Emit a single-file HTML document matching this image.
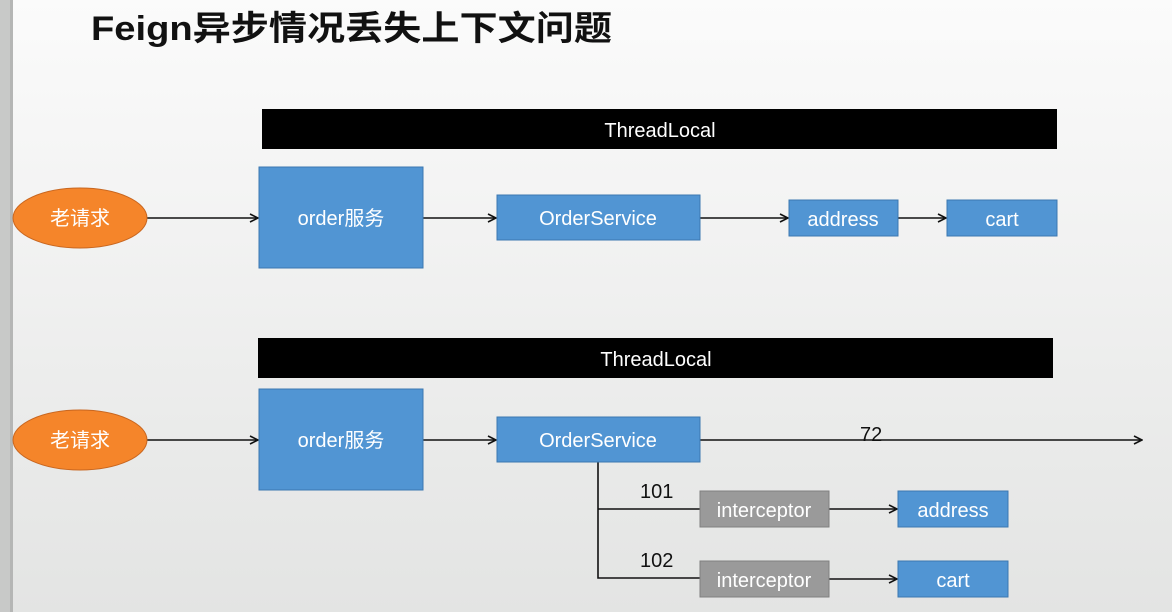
<!DOCTYPE html>
<html><head><meta charset="utf-8"><style>
html,body{margin:0;padding:0;}
body{width:1172px;height:612px;overflow:hidden;background:linear-gradient(#fbfbfb,#e4e5e4);}
svg{display:block}
text{font-family:"Liberation Sans","Noto Sans CJK SC",sans-serif;}
</style></head><body>
<svg width="1172" height="612" viewBox="0 0 1172 612" xmlns="http://www.w3.org/2000/svg">
<defs>
<linearGradient id="bg" x1="0" y1="0" x2="0" y2="1"><stop offset="0" stop-color="#fbfbfb"/><stop offset="1" stop-color="#e3e4e3"/></linearGradient>
<marker id="a" markerWidth="10" markerHeight="10" refX="9" refY="5" orient="auto" markerUnits="userSpaceOnUse"><path d="M1,1 L9,5 L1,9" fill="none" stroke="#111" stroke-width="1.6"/></marker>
</defs>
<rect width="1172" height="612" fill="url(#bg)"/>
<rect x="0" y="0" width="12" height="612" fill="#c8c9c8"/>
<rect x="10" y="0" width="3" height="612" fill="#b5b6b5"/>
<text x="91" y="40" font-size="34" font-weight="bold" fill="#111" textLength="521" lengthAdjust="spacingAndGlyphs">Feign异步情况丢失上下文问题</text>

<g stroke="#111" stroke-width="1.6" fill="none">
<line x1="147" y1="218" x2="258" y2="218" marker-end="url(#a)"/>
<line x1="423" y1="218" x2="496" y2="218" marker-end="url(#a)"/>
<line x1="700" y1="218" x2="788" y2="218" marker-end="url(#a)"/>
<line x1="898" y1="218" x2="946" y2="218" marker-end="url(#a)"/>
<line x1="147" y1="440" x2="258" y2="440" marker-end="url(#a)"/>
<line x1="423" y1="440" x2="496" y2="440" marker-end="url(#a)"/>
<line x1="700" y1="440" x2="1142" y2="440" marker-end="url(#a)"/>
<polyline points="598,462 598,578 700,578"/>
<line x1="598" y1="509" x2="700" y2="509"/>
<line x1="829" y1="509" x2="897" y2="509" marker-end="url(#a)"/>
<line x1="829" y1="579" x2="897" y2="579" marker-end="url(#a)"/>
</g>

<rect x="262" y="109" width="795" height="40" fill="#000"/>
<text x="660" y="137" font-size="20" fill="#fff" text-anchor="middle">ThreadLocal</text>
<rect x="258" y="338" width="795" height="40" fill="#000"/>
<text x="656" y="366" font-size="20" fill="#fff" text-anchor="middle">ThreadLocal</text>

<g fill="#f5852a" stroke="#c8661f" stroke-width="1">
<ellipse cx="80" cy="218" rx="67" ry="30"/>
<ellipse cx="80" cy="440" rx="67" ry="30"/>
</g>
<g font-size="20" fill="#fff" text-anchor="middle">
<text x="80" y="225">老请求</text>
<text x="80" y="447">老请求</text>
</g>

<g fill="#5195d3" stroke="#3c78b0" stroke-width="1">
<rect x="259" y="167" width="164" height="101"/>
<rect x="497" y="195" width="203" height="45"/>
<rect x="789" y="200" width="109" height="36"/>
<rect x="947" y="200" width="110" height="36"/>
<rect x="259" y="389" width="164" height="101"/>
<rect x="497" y="417" width="203" height="45"/>
<rect x="898" y="491" width="110" height="36"/>
<rect x="898" y="561" width="110" height="36"/>
</g>
<g fill="#9a9a9a" stroke="#808080" stroke-width="1">
<rect x="700" y="491" width="129" height="36"/>
<rect x="700" y="561" width="129" height="36"/>
</g>
<g font-size="20" fill="#fff" text-anchor="middle">
<text x="341" y="225">order服务</text>
<text x="598" y="225">OrderService</text>
<text x="843" y="226">address</text>
<text x="1002" y="226">cart</text>
<text x="341" y="447">order服务</text>
<text x="598" y="447">OrderService</text>
<text x="764" y="517">interceptor</text>
<text x="953" y="517">address</text>
<text x="764" y="587">interceptor</text>
<text x="953" y="587">cart</text>
</g>
<g font-size="20" fill="#111">
<text x="860" y="441">72</text>
<text x="640" y="498">101</text>
<text x="640" y="567">102</text>
</g>
</svg>
</body></html>
